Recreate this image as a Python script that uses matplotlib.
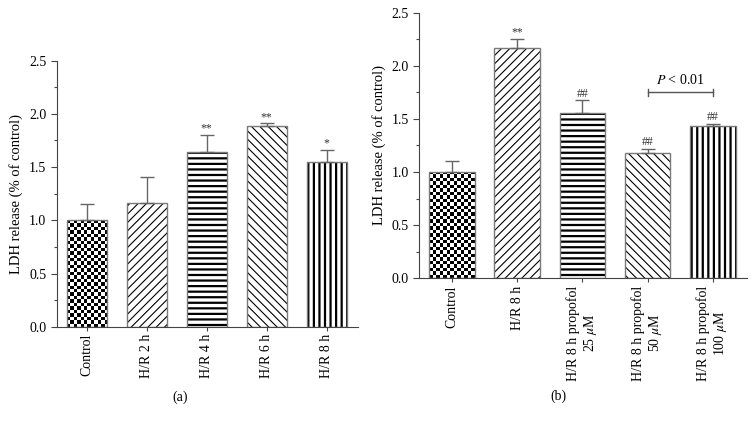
import numpy as np
import matplotlib
matplotlib.use("Agg")
import matplotlib.pyplot as plt
from matplotlib.ticker import MultipleLocator

plt.rcParams['font.family'] = ['Liberation Serif', 'DejaVu Serif']
plt.rcParams['mathtext.fontset'] = 'stix'

# panel (a) data
labels_a = ["Control", "H/R 2 h", "H/R 4 h", "H/R 6 h", "H/R 8 h"]
means_a = [1.00, 1.16, 1.645, 1.89, 1.545]
err_a = [0.155, 0.245, 0.16, 0.02, 0.12]
marks_a = ["", "", "**", "**", "*"]

# panel (b) data
labels_b = ["Control", "H/R 8 h", "H/R 8 h propofol\n25 $\\mu$M",
            "H/R 8 h propofol\n50 $\\mu$M", "H/R 8 h propofol\n100 $\\mu$M"]
means_b = [1.00, 2.165, 1.555, 1.178, 1.435]
err_b = [0.108, 0.085, 0.122, 0.042, 0.018]
marks_b = ["", "**", "##", "##", "##"]
sig_pair = (3, 4)
sig_y = 1.75
sig_text = "$P$ < 0.01"

hatches = [None, "////", "---", "\\\\\\\\", "|||"]
hatch_lw = [1.0, 0.8, 1.6, 0.8, 1.6]
EDGE = "#7a7a7a"


def checker_fill(ax, patch, cell_px=3.4):
    """Fill a bar with a black/white checkerboard, clipped to the bar."""
    x0, y0 = patch.get_x(), patch.get_y()
    x1, y1 = x0 + patch.get_width(), y0 + patch.get_height()
    p0 = ax.transData.transform((x0, y0))
    p1 = ax.transData.transform((x1, y1))
    nx = max(1, int(round((p1[0] - p0[0]) / cell_px)))
    ny = max(1, int(round((p1[1] - p0[1]) / cell_px)))
    img = (np.indices((ny, nx)).sum(axis=0) % 2).astype(float)
    im = ax.imshow(img, cmap="gray", extent=(x0, x1, y0, y1), origin="lower",
                   interpolation="nearest", aspect="auto", zorder=1)
    im.set_clip_path(patch)


def draw_panel(ax, labels, means, errs, marks, width):
    x = np.arange(len(labels))
    ax.set_xlim(-0.5, len(labels) - 0.48)
    ax.set_ylim(0, 2.5)
    for i in range(len(labels)):
        if hatches[i] is None:
            bar = ax.bar(x[i], means[i], width, color="white", edgecolor="none",
                         linewidth=0, zorder=1)[0]
            checker_fill(ax, bar)
        else:
            with plt.rc_context({'hatch.linewidth': hatch_lw[i]}):
                bar = ax.bar(x[i], means[i], width, color="white",
                             edgecolor="black", linewidth=0, hatch=hatches[i],
                             zorder=1)[0]
            if hasattr(bar, "set_hatch_linewidth"):
                bar.set_hatch_linewidth(hatch_lw[i])
    ax.bar(x, means, width, fill=False, edgecolor=EDGE, linewidth=1.0, zorder=2)
    ax.errorbar(x, means, yerr=[np.zeros(len(errs)), errs], fmt="none",
                ecolor="#666666", elinewidth=1.0, capsize=4.8, capthick=1.0,
                zorder=3)
    for i, m in enumerate(marks):
        if m:
            ax.text(x[i], means[i] + errs[i] + 0.005, m, ha="center",
                    va="bottom", fontsize=8.5, color="#333333")

    ax.set_xticks(x)
    ax.set_xticklabels(labels, rotation=90, fontsize=10, va="top",
                       ha="center", multialignment="center")
    ax.yaxis.set_major_locator(MultipleLocator(0.5))
    ax.yaxis.set_minor_locator(MultipleLocator(0.25))
    ax.yaxis.set_major_formatter(matplotlib.ticker.FormatStrFormatter("%.1f"))
    ax.tick_params(axis="y", labelsize=10, length=4, width=0.8, color="#444444")
    ax.tick_params(axis="y", which="minor", length=2.5, width=0.8,
                   color="#444444")
    ax.tick_params(axis="x", length=3, width=0.8, color="#444444", pad=2)
    for s in ("top", "right"):
        ax.spines[s].set_visible(False)
    for s in ("left", "bottom"):
        ax.spines[s].set_color("#444444")
        ax.spines[s].set_linewidth(0.8)
    ax.set_ylabel("LDH release (% of control)", fontsize=10.5, labelpad=4)


fig = plt.figure(figsize=(7.56, 4.22), dpi=100)
ax_a = fig.add_axes([0.075, 0.2258, 0.3985, 0.6304])
ax_b = fig.add_axes([0.5546, 0.3405, 0.4331, 0.6295])

draw_panel(ax_a, labels_a, means_a, err_a, marks_a, 0.67)
draw_panel(ax_b, labels_b, means_b, err_b, marks_b, 0.70)

# significance bracket in (b)
xa, xb = sig_pair
ax_b.plot([xa, xb], [sig_y, sig_y], color="#555555", lw=1.0)
ax_b.plot([xa, xa], [sig_y - 0.035, sig_y + 0.035], color="#555555", lw=1.0)
ax_b.plot([xb, xb], [sig_y - 0.035, sig_y + 0.035], color="#555555", lw=1.0)
ax_b.text((xa + xb) / 2, sig_y + 0.05, sig_text, ha="center", va="bottom",
          fontsize=10)

fig.text(180 / 756, 1 - 397 / 422, "(a)", ha="center", va="center", fontsize=10)
fig.text(558 / 756, 1 - 396 / 422, "(b)", ha="center", va="center", fontsize=10)

fig.savefig("out.png", dpi=100)
